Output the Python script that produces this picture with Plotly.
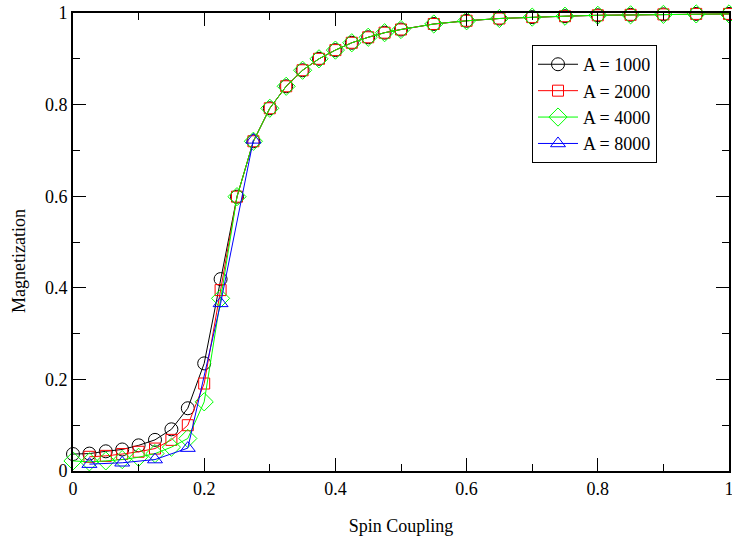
import plotly.graph_objects as go

# Data
x_1000 = [0, 0.025, 0.05, 0.075, 0.1, 0.125, 0.15, 0.175, 0.2, 0.225, 0.25, 0.275, 0.3, 0.325,
          0.35, 0.375, 0.4, 0.425, 0.45, 0.475, 0.5, 0.55, 0.6, 0.65, 0.7, 0.75, 0.8, 0.85, 0.9, 0.95, 1.0]
y_1000 = [0.037, 0.038, 0.043, 0.047, 0.056, 0.068, 0.091, 0.137, 0.235, 0.419, 0.599, 0.720, 0.792, 0.840,
          0.875, 0.900, 0.919, 0.935, 0.947, 0.957, 0.964, 0.976, 0.983, 0.988, 0.991, 0.993, 0.995, 0.996, 0.997, 0.998, 0.998]

x_2000 = [0.025, 0.05, 0.075, 0.1, 0.125, 0.15, 0.175, 0.2, 0.225, 0.25, 0.275, 0.3, 0.325,
          0.35, 0.375, 0.4, 0.425, 0.45, 0.475, 0.5, 0.55, 0.6, 0.65, 0.7, 0.75, 0.8, 0.85, 0.9, 0.95, 1.0]
y_2000 = [0.031, 0.033, 0.037, 0.042, 0.049, 0.068, 0.100, 0.191, 0.395, 0.599, 0.720, 0.792, 0.840,
          0.875, 0.900, 0.919, 0.935, 0.947, 0.957, 0.964, 0.976, 0.983, 0.988, 0.991, 0.993, 0.995, 0.996, 0.997, 0.998, 0.998]

x_4000 = [0, 0.025, 0.05, 0.075, 0.1, 0.125, 0.15, 0.175, 0.2, 0.225, 0.25, 0.275, 0.3, 0.325,
          0.35, 0.375, 0.4, 0.425, 0.45, 0.475, 0.5, 0.55, 0.6, 0.65, 0.7, 0.75, 0.8, 0.85, 0.9, 0.95, 1.0]
y_4000 = [0.022, 0.020, 0.022, 0.025, 0.030, 0.038, 0.052, 0.071, 0.151, 0.377, 0.599, 0.720, 0.792, 0.840,
          0.875, 0.900, 0.919, 0.935, 0.947, 0.957, 0.964, 0.976, 0.983, 0.988, 0.991, 0.993, 0.995, 0.996, 0.997, 0.998, 0.998]

x_8000 = [0.025, 0.075, 0.125, 0.175, 0.225, 0.275]
y_8000 = [0.015, 0.018, 0.025, 0.050, 0.366, 0.723]

x_ticks = [0, 0.2, 0.4, 0.6, 0.8, 1]
x_ticklabels = ["0", "0.2", "0.4", "0.6", "0.8", "1"]
y_ticks = [0, 0.2, 0.4, 0.6, 0.8, 1]
y_ticklabels = ["0", "0.2", "0.4", "0.6", "0.8", "1"]

x_title = "Spin Coupling"
y_title = "Magnetization"

FONT = "Liberation Serif, Times New Roman, serif"

series = [
    ("A = 1000", x_1000, y_1000, "black", "circle-open", 13),
    ("A = 2000", x_2000, y_2000, "#ff0000", "square-open", 11),
    ("A = 4000", x_4000, y_4000, "#00ff00", "diamond-open", 14),
    ("A = 8000", x_8000, y_8000, "#0000ff", "triangle-up-open", 13),
]

fig = go.Figure()
for name, xs, ys, color, sym, sz in series:
    fig.add_trace(go.Scatter(
        x=xs, y=ys, name=name, mode="lines+markers",
        line=dict(color=color, width=1),
        marker=dict(symbol=sym, size=sz, color=color, line=dict(color=color, width=1)),
        cliponaxis=False,
    ))

axis_common = dict(
    showline=True, linecolor="black", linewidth=2, mirror="allticks",
    ticks="inside", ticklen=13, tickwidth=1, tickcolor="black",
    showgrid=False, zeroline=False, automargin=False,
    ticklabeloverflow="allow",
    tickfont=dict(family=FONT, size=18, color="black"),
    minor=dict(ticks="inside", ticklen=7, tickwidth=1, tickcolor="black", dtick=0.1, showgrid=False),
)

fig.update_xaxes(range=[0, 1], tickvals=x_ticks, ticktext=x_ticklabels,
                 title=dict(text=x_title, font=dict(family=FONT, size=18, color="black"), standoff=22),
                 **axis_common)
fig.update_yaxes(range=[0, 1], tickvals=y_ticks, ticktext=y_ticklabels, **axis_common)

fig.add_annotation(
    text=y_title, textangle=-90, xref="paper", yref="paper",
    x=0, xshift=-54, y=0.4585, xanchor="center", yanchor="middle", showarrow=False,
    font=dict(family=FONT, size=18, color="black"),
)

fig.update_layout(
    width=732, height=544,
    margin=dict(l=73, r=3, t=13, b=73),
    plot_bgcolor="white", paper_bgcolor="white",
    font=dict(family=FONT, color="black"),
    legend=dict(
        x=0.6997, y=0.930, xanchor="left", yanchor="top",
        bordercolor="black", borderwidth=1, bgcolor="white",
        font=dict(family=FONT, size=18, color="black"),
        tracegroupgap=0, itemwidth=40,
    ),
    showlegend=True,
)

fig.write_html("out.html", config={"displayModeBar": False},
               post_script="document.body.style.margin='0';")
